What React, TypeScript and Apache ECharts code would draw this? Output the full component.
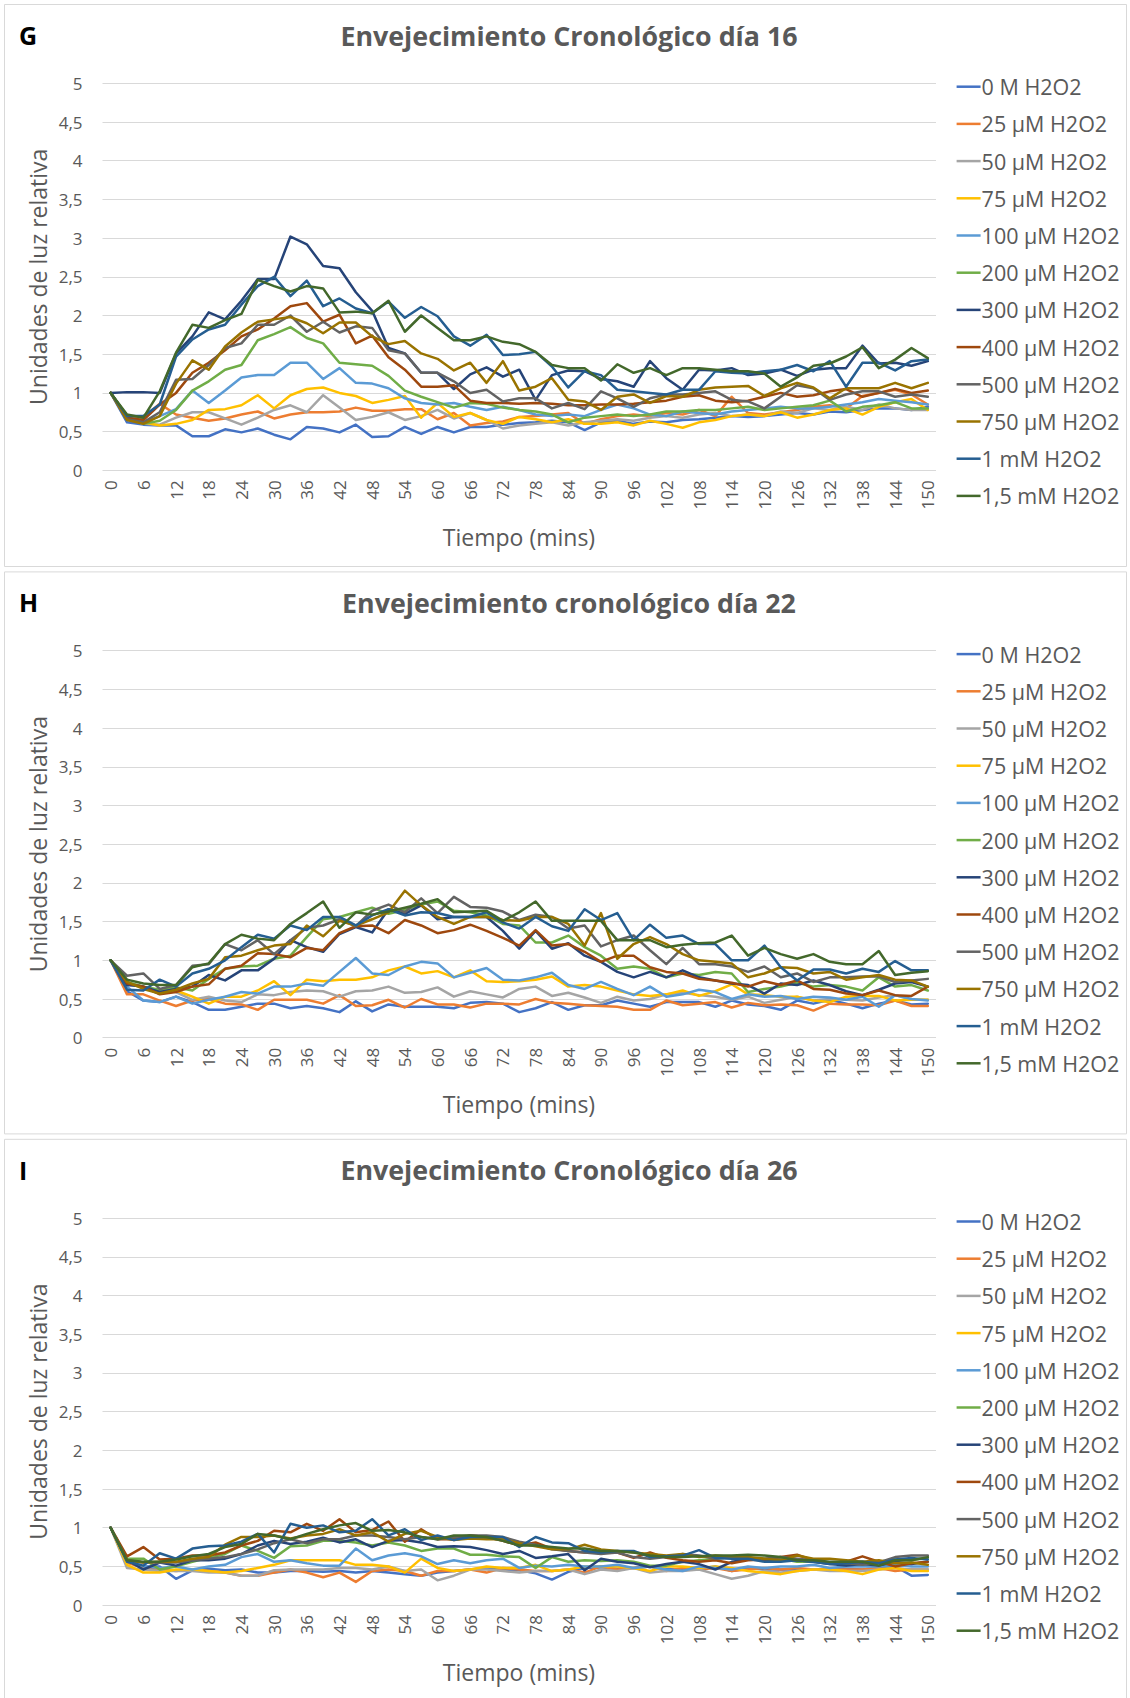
import React, { useEffect, useRef } from "react";
import * as echarts from "echarts";

const minutes = ["0","3","6","9","12","15","18","21","24","27","30","33","36","39","42","45","48","51","54","57","60","63","66","69","72","75","78","81","84","87","90","93","96","99","102","105","108","111","114","117","120","123","126","129","132","135","138","141","144","147","150"];

const seriesNames = ["0 M H2O2","25 µM H2O2","50 µM H2O2","75 µM H2O2","100 µM H2O2","200 µM H2O2","300 µM H2O2","400 µM H2O2","500 µM H2O2","750 µM H2O2","1 mM H2O2","1,5 mM H2O2"];
const seriesColors = ["#4472C4","#ED7D31","#A5A5A5","#FFC000","#5B9BD5","#70AD47","#264478","#9E480E","#636363","#997300","#255E91","#43682B"];

const panelTitles = ["Envejecimiento Cronológico día 16", "Envejecimiento cronológico día 22", "Envejecimiento Cronológico día 26"];
const panelLetters = ["G", "H", "I"];
const xAxisTitle = "Tiempo (mins)";
const yAxisTitle = "Unidades de luz relativa";

// ---- Day 16 ----
const d16_0M = [1,0.62,0.59,0.58,0.58,0.44,0.44,0.53,0.49,0.54,0.46,0.40,0.56,0.54,0.49,0.59,0.43,0.44,0.56,0.47,0.56,0.49,0.56,0.56,0.59,0.61,0.62,0.64,0.62,0.52,0.62,0.64,0.60,0.63,0.62,0.65,0.66,0.68,0.70,0.69,0.70,0.72,0.74,0.72,0.76,0.75,0.78,0.80,0.80,0.78,0.82];
const d16_25 = [1,0.70,0.68,0.86,0.72,0.68,0.64,0.67,0.72,0.76,0.67,0.72,0.75,0.75,0.76,0.81,0.77,0.77,0.79,0.79,0.66,0.74,0.58,0.61,0.63,0.69,0.70,0.72,0.74,0.60,0.66,0.70,0.72,0.70,0.74,0.72,0.78,0.70,0.95,0.74,0.72,0.75,0.78,0.82,0.84,0.80,0.96,1.00,1.04,0.98,0.85];
const d16_50 = [1,0.67,0.60,0.59,0.68,0.75,0.75,0.67,0.59,0.68,0.78,0.84,0.75,0.97,0.81,0.65,0.69,0.75,0.65,0.70,0.78,0.67,0.74,0.65,0.54,0.58,0.60,0.62,0.58,0.62,0.64,0.66,0.64,0.68,0.70,0.68,0.72,0.74,0.70,0.72,0.70,0.76,0.74,0.80,0.78,0.82,0.78,0.85,0.80,0.78,0.78];
const d16_75 = [1,0.70,0.62,0.58,0.60,0.65,0.78,0.79,0.84,0.97,0.80,0.97,1.05,1.07,1.00,0.96,0.87,0.91,0.96,0.68,0.87,0.69,0.74,0.65,0.60,0.69,0.66,0.62,0.66,0.60,0.60,0.62,0.58,0.64,0.60,0.55,0.62,0.65,0.70,0.72,0.70,0.75,0.68,0.72,0.78,0.80,0.72,0.82,0.88,0.92,0.78];
const d16_100 = [1,0.70,0.62,0.70,0.79,1.03,0.87,1.03,1.20,1.23,1.23,1.39,1.39,1.18,1.32,1.13,1.12,1.06,0.93,0.87,0.85,0.87,0.82,0.78,0.82,0.78,0.72,0.70,0.72,0.70,0.78,0.85,0.80,0.72,0.70,0.76,0.74,0.72,0.76,0.78,0.80,0.82,0.80,0.80,0.82,0.85,0.88,0.92,0.90,0.88,0.85];
const d16_200 = [1,0.70,0.60,0.64,0.78,1.03,1.15,1.30,1.36,1.68,1.76,1.85,1.71,1.64,1.39,1.37,1.35,1.22,1.03,0.95,0.88,0.81,0.87,0.86,0.81,0.78,0.76,0.72,0.62,0.68,0.70,0.72,0.70,0.72,0.76,0.76,0.78,0.78,0.80,0.82,0.78,0.80,0.82,0.84,0.90,0.76,0.82,0.84,0.88,0.80,0.80];
const d16_300 = [1,1.01,1.01,1.00,1.51,1.73,2.04,1.95,2.19,2.47,2.47,3.02,2.92,2.64,2.61,2.30,2.06,1.58,1.51,1.26,1.26,1.05,1.24,1.33,1.21,1.30,0.91,1.23,1.29,1.28,1.18,1.15,1.08,1.41,1.19,1.04,1.30,1.29,1.32,1.23,1.25,1.30,1.22,1.30,1.32,1.32,1.61,1.38,1.39,1.35,1.41];
const d16_400 = [1,0.68,0.65,0.85,1.00,1.26,1.39,1.55,1.73,1.82,1.96,2.12,2.16,1.92,2.01,1.64,1.74,1.46,1.30,1.08,1.08,1.10,0.90,0.87,0.87,0.86,0.87,0.86,0.84,0.84,0.85,0.85,0.86,0.88,0.90,0.95,0.97,0.90,0.88,0.90,0.95,1.00,0.95,0.97,1.02,1.05,0.95,1.00,1.05,1.00,1.03];
const d16_500 = [1,0.66,0.62,0.75,1.17,1.18,1.36,1.58,1.64,1.88,1.88,2.00,1.79,1.92,1.78,1.86,1.84,1.55,1.51,1.26,1.26,1.15,1.00,1.04,0.89,0.93,0.93,0.80,0.87,0.79,1.02,0.93,0.82,0.93,0.98,0.98,1.00,1.02,0.91,0.89,0.80,0.95,1.10,1.06,0.91,0.98,1.02,1.02,0.95,0.98,0.95];
const d16_750 = [1,0.65,0.60,0.70,1.12,1.42,1.30,1.60,1.78,1.92,1.95,1.98,1.90,1.77,1.91,1.91,1.73,1.63,1.67,1.51,1.44,1.29,1.39,1.13,1.41,1.03,1.08,1.19,0.91,0.89,0.78,0.95,0.98,0.87,0.96,0.95,1.04,1.07,1.08,1.09,0.96,1.06,1.13,1.07,0.93,1.06,1.06,1.06,1.13,1.06,1.13];
const d16_1m = [1,0.70,0.70,0.85,1.47,1.69,1.82,1.88,2.14,2.38,2.50,2.25,2.45,2.12,2.22,2.09,2.03,2.18,1.97,2.11,1.99,1.73,1.61,1.75,1.49,1.50,1.53,1.34,1.07,1.28,1.23,1.04,1.02,1.00,0.98,1.04,1.04,1.28,1.26,1.25,1.28,1.30,1.36,1.28,1.41,1.08,1.39,1.39,1.29,1.41,1.43];
const d16_15m = [1,0.72,0.68,1.02,1.52,1.88,1.84,1.94,2.02,2.46,2.38,2.31,2.38,2.35,2.04,2.05,2.03,2.19,1.79,2.00,1.84,1.68,1.68,1.73,1.66,1.63,1.53,1.36,1.32,1.32,1.16,1.37,1.26,1.32,1.23,1.32,1.32,1.30,1.28,1.28,1.25,1.08,1.20,1.35,1.38,1.47,1.59,1.32,1.43,1.58,1.45];

// ---- Day 22 ----
const d22_0M = [1,0.60,0.48,0.46,0.53,0.46,0.36,0.36,0.40,0.44,0.44,0.38,0.41,0.38,0.33,0.47,0.34,0.43,0.40,0.40,0.40,0.38,0.45,0.46,0.44,0.33,0.38,0.46,0.36,0.42,0.42,0.48,0.44,0.40,0.46,0.46,0.46,0.40,0.48,0.43,0.41,0.36,0.48,0.44,0.49,0.44,0.38,0.44,0.48,0.43,0.44];
const d22_25 = [1,0.56,0.56,0.48,0.41,0.48,0.50,0.44,0.43,0.36,0.49,0.49,0.49,0.44,0.55,0.41,0.42,0.49,0.39,0.50,0.43,0.43,0.39,0.44,0.44,0.43,0.50,0.45,0.44,0.42,0.41,0.40,0.36,0.36,0.48,0.42,0.44,0.46,0.39,0.45,0.42,0.43,0.42,0.35,0.44,0.43,0.43,0.42,0.48,0.41,0.41];
const d22_50 = [1,0.70,0.66,0.61,0.59,0.49,0.53,0.48,0.46,0.56,0.55,0.59,0.61,0.60,0.53,0.60,0.61,0.66,0.58,0.59,0.65,0.53,0.60,0.56,0.52,0.63,0.66,0.54,0.58,0.52,0.45,0.53,0.48,0.50,0.56,0.58,0.55,0.53,0.49,0.53,0.45,0.49,0.53,0.48,0.50,0.49,0.48,0.52,0.55,0.49,0.49];
const d22_75 = [1,0.70,0.66,0.57,0.61,0.53,0.44,0.53,0.53,0.61,0.73,0.55,0.75,0.73,0.75,0.75,0.78,0.87,0.92,0.83,0.86,0.78,0.87,0.73,0.72,0.73,0.75,0.79,0.66,0.68,0.66,0.61,0.56,0.54,0.56,0.61,0.54,0.60,0.69,0.56,0.55,0.53,0.53,0.48,0.46,0.53,0.54,0.54,0.48,0.49,0.49];
const d22_100 = [1,0.66,0.48,0.46,0.53,0.44,0.49,0.53,0.59,0.57,0.66,0.66,0.70,0.67,0.85,1.03,0.83,0.81,0.92,0.98,0.96,0.78,0.84,0.90,0.75,0.74,0.78,0.84,0.68,0.63,0.72,0.63,0.55,0.66,0.53,0.56,0.62,0.59,0.50,0.56,0.53,0.54,0.50,0.53,0.52,0.49,0.53,0.40,0.55,0.50,0.48];
const d22_200 = [1,0.72,0.66,0.62,0.65,0.61,0.76,0.89,0.92,0.93,1.02,1.06,1.30,1.53,1.56,1.62,1.68,1.60,1.65,1.72,1.76,1.64,1.62,1.58,1.47,1.45,1.23,1.23,1.32,1.17,1.06,0.89,0.92,0.89,0.78,0.83,0.81,0.85,0.83,0.59,0.63,0.66,0.71,0.66,0.68,0.66,0.61,0.78,0.66,0.68,0.61];
const d22_300 = [1,0.68,0.66,0.59,0.63,0.66,0.81,0.74,0.87,0.87,1.02,1.26,1.17,1.11,1.34,1.43,1.36,1.66,1.60,1.71,1.53,1.56,1.56,1.56,1.38,1.15,1.38,1.15,1.22,1.06,0.98,0.85,0.78,0.85,0.78,0.87,0.78,0.74,0.70,0.68,0.57,0.70,0.68,0.74,0.68,0.60,0.55,0.62,0.70,0.72,0.66];
const d22_400 = [1,0.70,0.66,0.56,0.59,0.66,0.69,0.89,0.93,1.09,1.08,1.04,1.16,1.13,1.35,1.44,1.45,1.35,1.52,1.45,1.35,1.39,1.46,1.38,1.29,1.19,1.39,1.19,1.21,1.11,0.98,1.06,1.06,0.91,0.85,0.83,0.76,0.74,0.71,0.66,0.73,0.68,0.74,0.63,0.62,0.57,0.55,0.61,0.55,0.54,0.66];
const d22_500 = [1,0.80,0.83,0.63,0.68,0.93,0.95,1.21,1.13,1.26,1.08,1.26,1.42,1.45,1.53,1.44,1.64,1.72,1.62,1.80,1.61,1.82,1.69,1.68,1.63,1.52,1.59,1.56,1.41,1.45,1.18,1.26,1.32,1.13,0.95,1.16,0.95,0.95,0.92,0.85,0.92,0.78,0.83,0.72,0.78,0.78,0.79,0.79,0.72,0.74,0.76];
const d22_750 = [1,0.72,0.63,0.57,0.62,0.70,0.76,1.04,1.06,1.13,1.19,1.21,1.45,1.31,1.51,1.45,1.53,1.62,1.90,1.71,1.56,1.47,1.56,1.56,1.52,1.51,1.56,1.56,1.47,1.19,1.61,1.02,1.21,1.30,1.21,1.08,1.00,0.98,0.96,0.78,0.83,0.91,0.90,0.83,0.85,0.75,0.78,0.81,0.75,0.74,0.66];
const d22_1m = [1,0.62,0.61,0.75,0.66,0.83,0.89,1.00,1.17,1.33,1.28,1.45,1.39,1.56,1.56,1.45,1.58,1.66,1.58,1.62,1.61,1.56,1.56,1.62,1.49,1.41,1.56,1.44,1.38,1.66,1.52,1.61,1.26,1.46,1.29,1.32,1.21,1.21,1.00,1.00,1.19,0.91,0.74,0.88,0.88,0.83,0.89,0.85,0.99,0.87,0.87];
const d22_15m = [1,0.75,0.70,0.68,0.68,0.91,0.96,1.21,1.33,1.28,1.26,1.47,1.61,1.76,1.42,1.62,1.59,1.63,1.68,1.73,1.79,1.62,1.63,1.64,1.51,1.62,1.76,1.51,1.51,1.51,1.51,1.26,1.26,1.26,1.17,1.20,1.22,1.23,1.32,1.06,1.16,1.08,1.02,1.08,0.98,0.95,0.95,1.12,0.81,0.84,0.86];

// ---- Day 26 ----
const d26_0M = [1,0.55,0.50,0.50,0.34,0.45,0.47,0.45,0.46,0.42,0.42,0.44,0.44,0.43,0.44,0.42,0.44,0.42,0.40,0.38,0.42,0.44,0.46,0.48,0.46,0.45,0.41,0.33,0.43,0.48,0.49,0.47,0.48,0.50,0.47,0.45,0.47,0.50,0.44,0.48,0.46,0.46,0.46,0.46,0.47,0.47,0.46,0.48,0.50,0.38,0.39];
const d26_25 = [1,0.55,0.48,0.46,0.44,0.46,0.44,0.42,0.38,0.38,0.42,0.46,0.42,0.36,0.42,0.30,0.44,0.46,0.44,0.38,0.44,0.44,0.46,0.42,0.48,0.46,0.44,0.44,0.46,0.42,0.50,0.46,0.48,0.50,0.44,0.48,0.46,0.48,0.44,0.46,0.48,0.46,0.48,0.46,0.46,0.46,0.46,0.48,0.44,0.46,0.46];
const d26_50 = [1,0.48,0.46,0.44,0.44,0.44,0.42,0.42,0.38,0.38,0.45,0.46,0.46,0.46,0.48,0.48,0.46,0.50,0.44,0.46,0.32,0.38,0.46,0.46,0.44,0.42,0.44,0.44,0.46,0.40,0.46,0.44,0.48,0.42,0.44,0.44,0.46,0.40,0.34,0.38,0.44,0.42,0.44,0.46,0.44,0.44,0.44,0.46,0.48,0.46,0.46];
const d26_75 = [1,0.52,0.42,0.42,0.46,0.46,0.44,0.42,0.44,0.48,0.52,0.58,0.58,0.58,0.58,0.52,0.52,0.50,0.42,0.60,0.48,0.44,0.46,0.50,0.48,0.48,0.52,0.44,0.46,0.50,0.50,0.50,0.48,0.44,0.50,0.50,0.48,0.50,0.48,0.44,0.42,0.40,0.44,0.46,0.46,0.44,0.40,0.46,0.48,0.44,0.44];
const d26_100 = [1,0.58,0.50,0.48,0.50,0.46,0.50,0.52,0.62,0.66,0.56,0.58,0.54,0.51,0.51,0.73,0.58,0.64,0.67,0.63,0.53,0.58,0.54,0.58,0.60,0.48,0.51,0.50,0.52,0.50,0.50,0.52,0.48,0.50,0.46,0.44,0.50,0.48,0.46,0.50,0.48,0.50,0.50,0.52,0.48,0.50,0.50,0.50,0.52,0.50,0.50];
const d26_200 = [1,0.60,0.60,0.46,0.50,0.56,0.61,0.66,0.77,0.70,0.61,0.76,0.77,0.83,0.83,0.81,0.77,0.81,0.77,0.70,0.73,0.73,0.65,0.65,0.63,0.62,0.48,0.62,0.56,0.58,0.57,0.58,0.56,0.51,0.51,0.56,0.58,0.60,0.62,0.61,0.60,0.60,0.56,0.56,0.54,0.53,0.54,0.56,0.59,0.58,0.61];
const d26_300 = [1,0.58,0.46,0.55,0.51,0.58,0.58,0.60,0.66,0.77,0.83,0.79,0.82,0.87,0.81,0.85,0.75,0.83,0.84,0.81,0.75,0.76,0.75,0.71,0.66,0.70,0.61,0.63,0.66,0.45,0.60,0.56,0.54,0.49,0.53,0.56,0.53,0.46,0.56,0.59,0.58,0.58,0.58,0.56,0.53,0.51,0.53,0.51,0.56,0.53,0.56];
const d26_400 = [1,0.63,0.75,0.59,0.60,0.64,0.64,0.68,0.77,0.83,0.96,0.94,1.05,0.96,1.11,0.94,0.97,1.08,0.82,0.98,0.85,0.85,0.90,0.88,0.83,0.77,0.81,0.73,0.70,0.68,0.70,0.68,0.61,0.68,0.61,0.58,0.56,0.58,0.54,0.58,0.59,0.62,0.65,0.58,0.54,0.56,0.63,0.56,0.50,0.54,0.56];
const d26_500 = [1,0.58,0.55,0.55,0.55,0.58,0.60,0.62,0.66,0.72,0.80,0.85,0.80,0.85,0.85,0.90,0.90,0.88,0.85,0.88,0.85,0.88,0.90,0.90,0.88,0.82,0.78,0.72,0.70,0.68,0.66,0.68,0.62,0.60,0.62,0.66,0.64,0.60,0.62,0.60,0.60,0.62,0.60,0.58,0.55,0.54,0.52,0.55,0.62,0.64,0.64];
const d26_750 = [1,0.58,0.55,0.56,0.56,0.60,0.62,0.78,0.88,0.88,0.90,0.86,0.90,0.92,0.98,0.90,0.94,0.82,0.92,0.96,0.88,0.84,0.86,0.85,0.85,0.80,0.76,0.72,0.72,0.78,0.72,0.70,0.68,0.66,0.64,0.66,0.62,0.64,0.62,0.62,0.60,0.58,0.64,0.60,0.60,0.58,0.56,0.58,0.54,0.55,0.52];
const d26_1m = [1,0.56,0.51,0.67,0.60,0.73,0.76,0.77,0.82,0.92,0.68,1.05,1.00,1.03,0.94,0.96,1.11,0.90,0.98,0.84,0.90,0.84,0.88,0.88,0.88,0.75,0.88,0.81,0.80,0.70,0.68,0.70,0.70,0.62,0.63,0.64,0.71,0.61,0.60,0.60,0.56,0.56,0.58,0.56,0.53,0.54,0.56,0.54,0.59,0.61,0.59];
const d26_15m = [1,0.58,0.56,0.56,0.59,0.63,0.66,0.75,0.79,0.92,0.90,0.85,0.92,0.98,1.03,1.06,0.96,0.97,0.94,0.88,0.85,0.90,0.90,0.88,0.83,0.77,0.77,0.75,0.73,0.73,0.70,0.70,0.68,0.64,0.62,0.62,0.63,0.64,0.64,0.65,0.64,0.62,0.58,0.58,0.56,0.56,0.56,0.51,0.58,0.58,0.62];

const day16 = [d16_0M, d16_25, d16_50, d16_75, d16_100, d16_200, d16_300, d16_400, d16_500, d16_750, d16_1m, d16_15m];
const day22 = [d22_0M, d22_25, d22_50, d22_75, d22_100, d22_200, d22_300, d22_400, d22_500, d22_750, d22_1m, d22_15m];
const day26 = [d26_0M, d26_25, d26_50, d26_75, d26_100, d26_200, d26_300, d26_400, d26_500, d26_750, d26_1m, d26_15m];
const panels = [day16, day22, day26];

const FONT = "Open Sans";
const TXT = "#595959";
const W = 1130;
const H = 1698;
const DY = 567.4;
const GRID_LEFT = 102.5;
const GRID_W = 833.5;
const GRID_TOP = 83.3;
const GRID_H = 387;

function buildOption() {
  const grid: any[] = [];
  const xAxis: any[] = [];
  const yAxis: any[] = [];
  const series: any[] = [];
  const legend: any[] = [];
  const graphic: any[] = [];

  panels.forEach((panel, k) => {
    const off = k * DY;
    grid.push({ left: GRID_LEFT, top: GRID_TOP + off, width: GRID_W, height: GRID_H, containLabel: false });
    xAxis.push({
      type: "category",
      gridIndex: k,
      data: minutes,
      boundaryGap: true,
      axisLine: { show: false },
      axisTick: { show: false },
      axisLabel: { interval: 1, rotate: 90, margin: 10, color: TXT, fontSize: 17, fontFamily: FONT },
      splitLine: { show: false },
    });
    yAxis.push({
      type: "value",
      gridIndex: k,
      min: 0,
      max: 5,
      interval: 0.5,
      axisLine: { show: false },
      axisTick: { show: false },
      axisLabel: {
        margin: 20,
        color: TXT,
        fontSize: 17,
        fontFamily: FONT,
        formatter: (v: number) => String(v).replace(".", ","),
      },
      splitLine: { show: true, lineStyle: { color: "#d9d9d9", width: 1.2 } },
    });
    panel.forEach((vals, j) => {
      series.push({
        type: "line",
        name: seriesNames[j],
        xAxisIndex: k,
        yAxisIndex: k,
        data: vals,
        symbol: "none",
        showSymbol: false,
        lineStyle: { color: seriesColors[j], width: 2.5, join: "round", cap: "round" },
        itemStyle: { color: seriesColors[j] },
        emphasis: { disabled: true },
      });
    });
    legend.push({
      orient: "vertical",
      left: 956.6,
      top: 75.2 + off,
      padding: 0,
      data: seriesNames,
      icon: "rect",
      itemWidth: 24,
      itemHeight: 2.5,
      itemGap: 14.2,
      selectedMode: false,
      textStyle: { color: TXT, fontSize: 21.5, lineHeight: 23, fontFamily: FONT, padding: [0, 0, 0, -4] },
    });
    graphic.push({
      type: "rect",
      shape: { x: 4.5, y: 4.5 + off, width: 1122, height: 562 },
      style: { fill: "none", stroke: "#d9d9d9", lineWidth: 1 },
      silent: true,
    });
    graphic.push({
      type: "text",
      x: 19,
      y: 35 + off,
      style: { text: panelLetters[k], fill: "#000", fontSize: 25, fontWeight: "bold", fontFamily: FONT, align: "left", verticalAlign: "middle" },
    });
    graphic.push({
      type: "text",
      x: 569,
      y: 35 + off,
      style: { text: panelTitles[k], fill: TXT, fontSize: 26.8, fontWeight: "bold", fontFamily: FONT, align: "center", verticalAlign: "middle" },
    });
    graphic.push({
      type: "text",
      x: 519,
      y: 537 + off,
      style: { text: xAxisTitle, fill: TXT, fontSize: 23, fontFamily: FONT, align: "center", verticalAlign: "middle" },
    });
    graphic.push({
      type: "text",
      x: 38,
      y: 276.8 + off,
      rotation: Math.PI / 2,
      style: { text: yAxisTitle, fill: TXT, fontSize: 23, fontFamily: FONT, align: "center", verticalAlign: "middle" },
    });
  });

  return {
    animation: false,
    backgroundColor: "#ffffff",
    textStyle: { fontFamily: FONT },
    grid,
    xAxis,
    yAxis,
    series,
    legend,
    graphic,
  };
}

export default function App() {
  const ref = useRef<HTMLDivElement>(null);
  useEffect(() => {
    if (!ref.current) return;
    const chart = echarts.init(ref.current, undefined, { renderer: "svg" });
    chart.setOption(buildOption() as any);
    return () => chart.dispose();
  }, []);
  return <div ref={ref} style={{ position: "absolute", left: 0, top: 0, width: W, height: H, background: "#fff" }} />;
}
